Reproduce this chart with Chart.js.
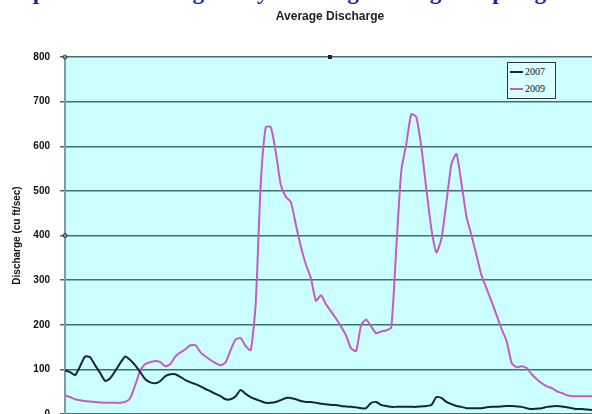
<!DOCTYPE html>
<html>
<head>
<meta charset="utf-8">
<script src="https://cdn.jsdelivr.net/npm/chart.js@4.4.0/dist/chart.umd.min.js"></script>
<style>
  html, body { margin: 0; padding: 0; background: #fff; width: 592px; height: 414px; overflow: hidden; }
  #caption {
    position: absolute; left: -8px; top: -20px; white-space: nowrap;
    font: bold 23px "Liberation Serif", serif; line-height: 23px; color: #1c1ca8;
  }
  #wrap { position: absolute; left: 0; top: 0; width: 592px; height: 430px; }
  #legend {
    position: absolute; left: 507px; top: 62px; width: 47px; height: 35px;
    border: 1px solid #333; background: #d9ffff;
    font: 10px "Liberation Serif", serif; color: #111;
  }
  #legend div { position: relative; height: 17px; line-height: 17px; padding-left: 17px; }
  #legend span { position: absolute; left: 2px; top: 8px; width: 13px; height: 2px; }
</style>
</head>
<body>
<div id="caption">comparison of average daily discharge during the spring runoff, 2007 and 2009,</div>
<div id="wrap"><canvas id="chart" width="592" height="430"></canvas></div>
<div id="legend"></div>
<script>
// Average daily discharge (cu ft/sec)
const dis2007 = [
  98, 94, 87, 107, 129, 127, 109, 92, 74, 80,
  96, 114, 129, 121, 109, 94, 78, 71, 69, 74,
  85, 89, 89, 83, 76, 71, 67, 62, 56, 51,
  45, 40, 33, 33, 40, 54, 45, 38, 33, 29,
  25, 25, 27, 31, 36, 36, 33, 29, 27, 27,
  25, 23, 22, 20, 20, 18, 17, 16, 15, 13,
  13, 25, 27, 20, 18, 16, 16, 16, 16, 16,
  16, 17, 18, 20, 38, 36, 27, 22, 18, 16,
  13, 13, 13, 13, 15, 16, 16, 17, 18, 18,
  17, 16, 13, 11, 12, 13, 16, 17, 18, 17,
  15, 13, 11, 11, 10, 9
];
const dis2009 = [
  42, 38, 33, 31, 29, 28, 27, 26, 25, 25,
  25, 25, 27, 36, 65, 98, 112, 116, 119, 116,
  107, 112, 129, 138, 145, 154, 154, 138, 129, 121,
  114, 109, 116, 143, 167, 170, 152, 143, 248, 516,
  643, 643, 587, 513, 487, 475, 424, 375, 335, 304,
  254, 266, 246, 230, 214, 196, 176, 147, 141, 199,
  212, 196, 181, 185, 187, 194, 370, 545, 605, 672,
  665, 598, 504, 415, 362, 393, 475, 560, 583, 516,
  442, 400, 355, 310, 281, 252, 221, 190, 163, 114,
  105, 107, 103, 89, 78, 69, 62, 58, 51, 47,
  42, 40, 40, 40, 40, 40
];
const seriesNames = ['2007', '2009'];
const seriesColors = ['#16243f', '#c45cc4'];
const yTicks = [0, 100, 200, 300, 400, 500, 600, 700, 800];
const days = dis2007.map((_, i) => 'Day ' + (i + 1));

const plotBackground = {
  id: 'plotBackground',
  beforeDraw(chart) {
    const { ctx, chartArea: a } = chart;
    ctx.save();
    ctx.fillStyle = '#ccffff';
    ctx.fillRect(a.left, a.top, a.right - a.left, a.bottom - a.top);
    ctx.restore();
  },
  afterDraw(chart) {
    const { ctx, chartArea: a } = chart;
    ctx.save();
    // title
    ctx.fillStyle = '#222';
    ctx.font = 'bold 12px Arial';
    ctx.textAlign = 'center';
    ctx.textBaseline = 'middle';
    ctx.fillText('Average Discharge', 330, 17);
    // selection handles left over from the spreadsheet
    const y = chart.scales.y;
    ctx.strokeStyle = '#333';
    ctx.lineWidth = 1;
    [800, 400].forEach(v => {
      ctx.beginPath();
      ctx.arc(a.left, y.getPixelForValue(v), 2, 0, Math.PI * 2);
      ctx.stroke();
    });
    ctx.fillStyle = '#222';
    ctx.fillRect(328, a.top - 2, 4, 4);
    ctx.restore();
  }
};

const chart = new Chart(document.getElementById('chart'), {
  type: 'line',
  data: {
    labels: days,
    datasets: [
      { label: seriesNames[0], data: dis2007, borderColor: seriesColors[0], borderWidth: 2, pointRadius: 0, tension: 0.2 },
      { label: seriesNames[1], data: dis2009, borderColor: seriesColors[1], borderWidth: 2, pointRadius: 0, tension: 0.2 }
    ]
  },
  options: {
    responsive: false,
    animation: false,
    layout: { padding: { top: 57, bottom: 14, left: 0, right: 0 } },
    plugins: {
      legend: { display: false },
      title: { display: false },
      tooltip: { enabled: false }
    },
    scales: {
      x: { display: false },
      y: {
        min: 0,
        max: 800,
        afterBuildTicks(scale) { scale.ticks = yTicks.map(v => ({ value: v })); },
        afterFit(scale) { scale.width = 65; },
        ticks: { color: '#111', font: { family: 'Arial', size: 10, weight: 'bold' }, padding: 10 },
        grid: { color: '#456f6f', lineWidth: 1.5, tickLength: 5, tickColor: '#456f6f' },
        border: { color: '#7f9f9f', width: 2 },
        title: {
          display: true,
          text: 'Discharge (cu ft/sec)',
          color: '#111',
          font: { family: 'Arial', size: 10, weight: 'bold' },
          padding: { top: 11, bottom: 4 }
        }
      }
    }
  },
  plugins: [plotBackground]
});

// legend box inside the plot, built from the datasets
const legend = document.getElementById('legend');
chart.data.datasets.forEach(ds => {
  const row = document.createElement('div');
  const swatch = document.createElement('span');
  swatch.style.background = ds.borderColor;
  row.appendChild(swatch);
  row.appendChild(document.createTextNode(ds.label));
  legend.appendChild(row);
});
</script>
</body>
</html>
